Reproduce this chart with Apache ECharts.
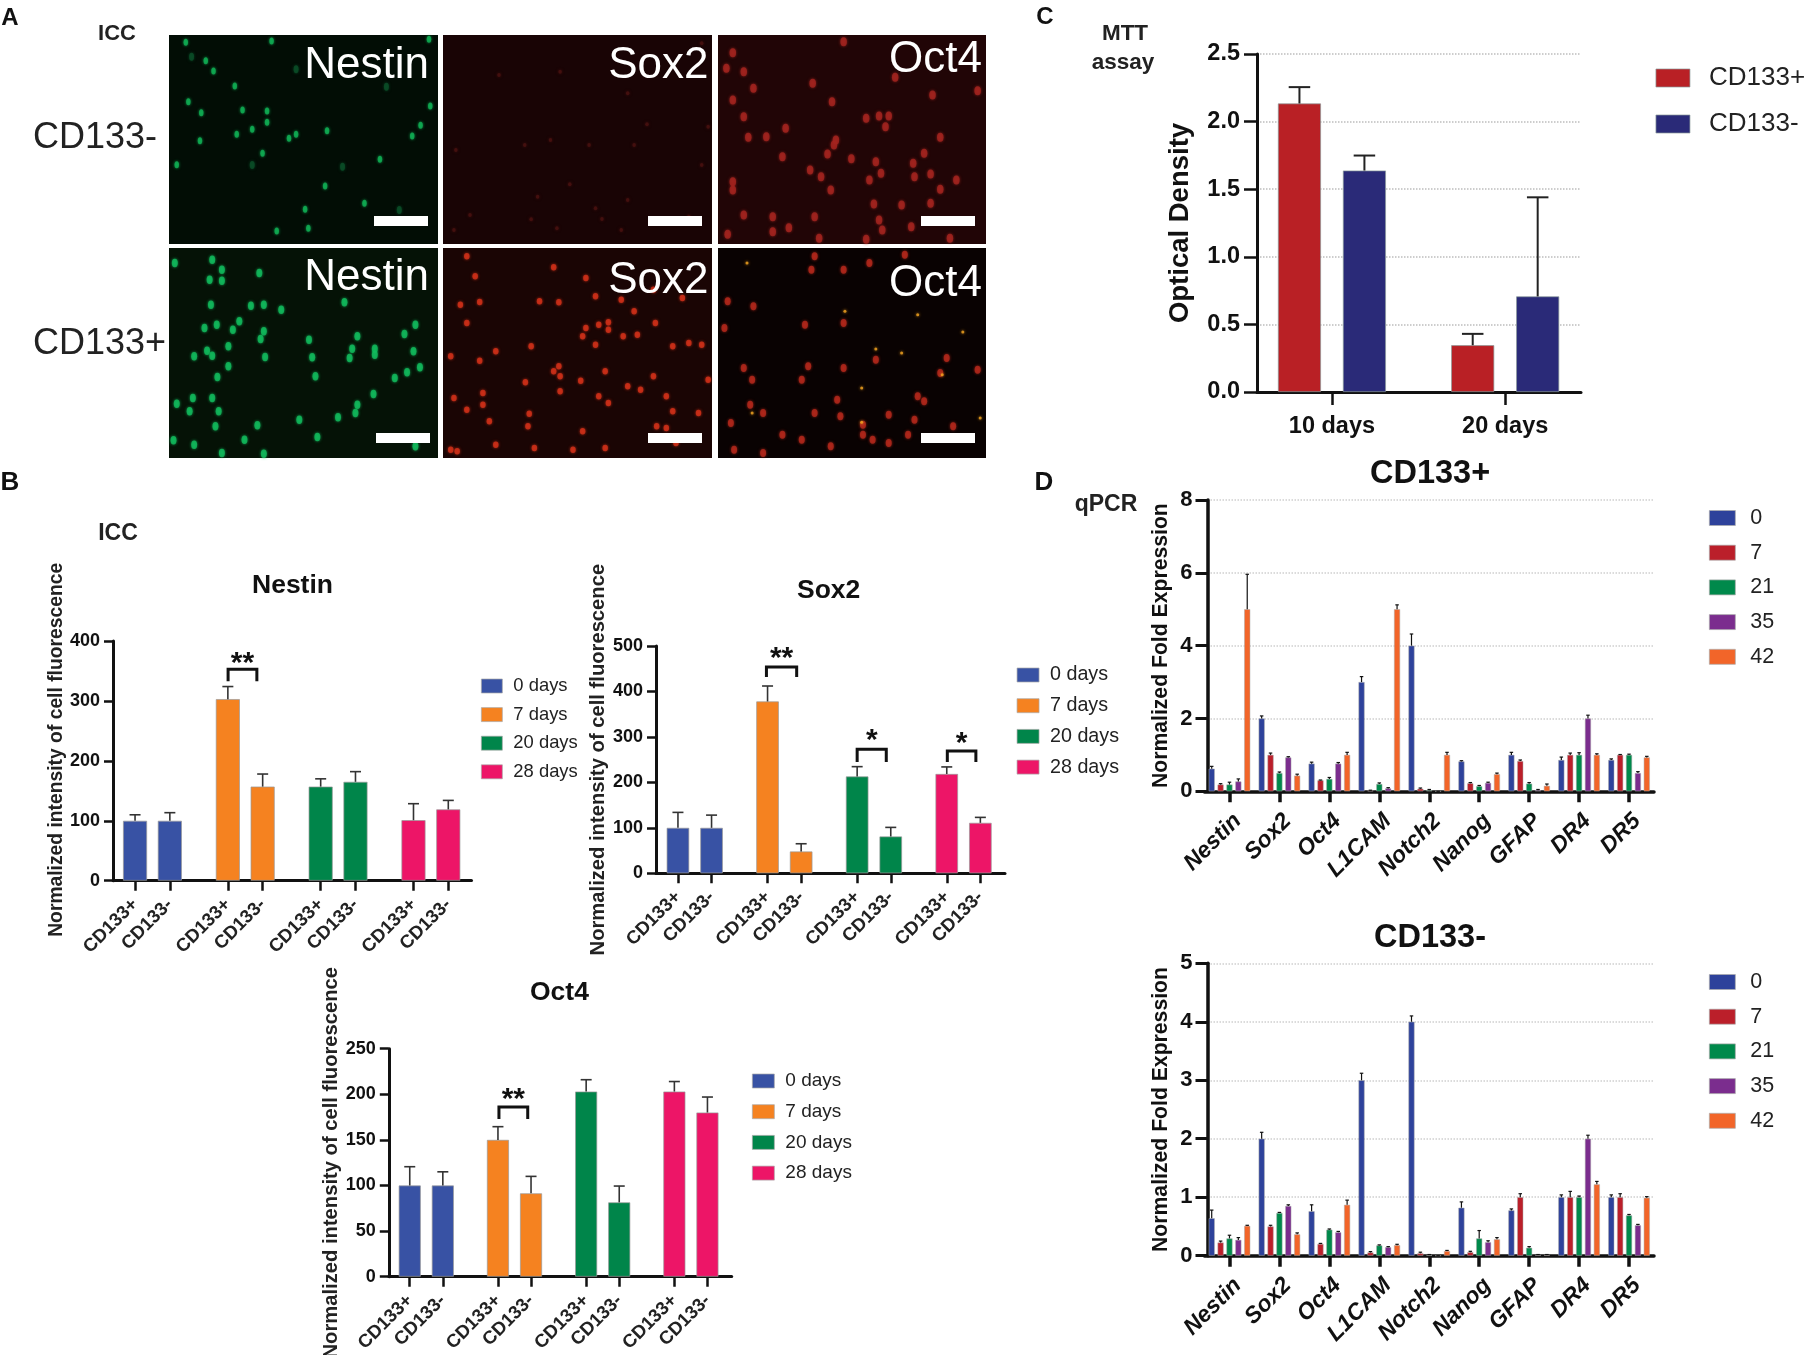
<!DOCTYPE html>
<html>
<head>
<meta charset="utf-8">
<title>CD133 figure</title>
<script src="https://cdn.jsdelivr.net/npm/echarts@6/dist/echarts.min.js"></script>
<style>
html, body { margin: 0; padding: 0; background: #fff; }
#main { width: 1806px; height: 1355px; overflow: hidden; }
</style>
</head>
<body>
<div id="main"></div>
<script>
// panel A: cell positions
const fieldX = [[263, 680], [688, 1106], [1115, 1531]];
const fieldY = [[105, 732], [745, 1375]];
const nestinNegCells = [[289,127],[422,123],[666,118],[320,182],[332,213],[365,258],[293,305],[415,333],[313,338],[392,388],[653,376],[508,392],[449,415],[460,403],[311,422],[368,403],[408,460],[590,478],[275,494],[505,558],[566,610],[474,628],[479,685],[430,693],[668,318],[640,408],[377,330],[415,367]];
const nestinNegDim = [[298,170],[460,208],[600,260],[532,500],[392,495],[620,630]];
const sox2NegCells = [[1090,130],[870,215],[775,225],[1005,373],[1100,380],[815,435],[915,435],[985,435],[885,553],[835,590],[925,625],[975,600],[825,658],[935,657],[730,645],[705,690],[865,685],[965,690],[1090,495],[975,280],[708,450],[855,420],[1070,650]];
const oct4NegCells = [[1138,158],[1310,125],[1155,215],[1128,205],[1170,265],[1138,300],[1292,305],[1448,285],[1518,272],[1390,232],[1262,250],[1155,350],[1220,385],[1190,410],[1345,355],[1365,348],[1380,348],[1375,380],[1162,412],[1295,435],[1460,412],[1298,420],[1285,462],[1322,476],[1215,470],[1435,460],[1258,510],[1368,520],[1445,522],[1420,530],[1418,490],[1485,540],[1138,545],[1275,530],[1360,485],[1350,540],[1460,568],[1290,570],[1400,615],[1357,612],[1445,610],[1155,645],[1365,660],[1370,690],[1415,680],[1225,683],[1200,695],[1130,703],[1272,715],[1475,715],[1345,718],[1265,650],[1200,650],[1138,570]];
const nestinPosCells = [[330,780],[272,790],[345,810],[326,840],[345,843],[403,820],[535,908],[410,915],[390,918],[328,915],[437,930],[337,975],[372,965],[362,990],[318,985],[410,995],[405,1018],[555,1010],[628,1003],[645,975],[355,1040],[322,1053],[302,1070],[330,1068],[412,1072],[485,1073],[547,1047],[582,1047],[582,1065],[543,1075],[642,1055],[355,1100],[338,1132],[490,1130],[652,1103],[632,1118],[613,1135],[580,1183],[275,1212],[300,1195],[330,1195],[340,1235],[295,1235],[552,1240],[525,1253],[465,1260],[400,1277],[335,1280],[270,1322],[302,1335],[345,1360],[493,1312],[645,1340],[410,1362],[380,1320],[555,1215],[480,1020]];
const sox2PosCells = [[725,770],[860,803],[738,830],[910,835],[925,890],[745,907],[715,915],[838,905],[868,908],[965,900],[1015,870],[1060,895],[985,935],[725,970],[1018,970],[945,968],[930,975],[910,985],[905,1010],[945,990],[990,1005],[968,1010],[825,1040],[770,1055],[745,1083],[700,1070],[1070,1030],[1090,1035],[925,1035],[940,1115],[868,1100],[860,1115],[870,1130],[902,1143],[816,1148],[750,1180],[705,1195],[725,1230],[870,1175],[930,1190],[945,1210],[975,1160],[995,1170],[1035,1190],[1015,1130],[822,1242],[760,1265],[905,1295],[820,1280],[1045,1235],[1085,1240],[1035,1285],[940,1345],[770,1335],[700,1350],[710,1355],[830,1345],[890,1350],[1050,1330],[1020,1280],[750,1215],[1100,1140],[1045,1040]];
const oct4PosCells = [[1260,810],[1310,810],[1350,790],[1405,765],[1265,770],[1130,905],[1170,920],[1310,970],[1250,975],[1155,1105],[1125,985],[1360,1080],[1255,1100],[1310,1105],[1470,1075],[1168,1140],[1245,1140],[1165,1215],[1185,1240],[1460,1120],[1265,1240],[1305,1250],[1340,1275],[1380,1245],[1425,1190],[1435,1205],[1140,1350],[1215,1305],[1245,1320],[1290,1340],[1340,1305],[1355,1320],[1410,1305],[1480,1280],[1518,1110],[1300,1200],[1420,1260],[1380,1330],[1185,1360],[1135,1270]];
const oct4PosYellow = [[1160,790],[1312,935],[1425,945],[1360,1048],[1463,1125],[1338,1165],[1338,1268],[1168,1240],[1400,1060],[1495,997],[1522,1255]];

// panel B: four time points, CD133+ / CD133- at each
const dayNames = ['0 days', '7 days', '20 days', '28 days'];
const pairLabels = ['CD133+', 'CD133-', 'CD133+', 'CD133-', 'CD133+', 'CD133-', 'CD133+', 'CD133-'];
const pairPositions = [0, 3, 8, 11, 16, 19, 24, 27];
const nestinValues = [100, 100, 303, 157, 157, 165, 101, 119];
const nestinTops = [110, 113.5, 324, 178, 170, 182, 128.5, 134];
const nestinBrackets = [[8.02, 10.5, 353, 333, 373, '**']];
const sox2Values = [100, 100, 378, 48, 213, 81, 218.5, 111];
const sox2Tops = [134, 128, 412, 65, 234.6, 101, 234, 123];
const sox2Brackets = [[7.9, 10.6, 454, 432, 487, '**'], [16.0, 18.6, 273, 245, 306, '*'], [24.05, 26.6, 269, 245, 300, '*']];
const oct4Values = [100, 100, 150, 91.4, 203, 81.5, 203, 180];
const oct4Tops = [120.6, 115, 164.5, 110, 216, 99.4, 214, 197];
const oct4Brackets = [[8.09, 10.7, 186, 173, 202, '**']];

// panel C: MTT assay
const mttNames = ['CD133+', 'CD133-'];
const mttLabels = ['10 days', '20 days'];
const mttPositions = [[0, 4], [1.5, 5.5]];
const mttTicks = [0.75, 4.75];
const mttValues = [[2.134, 0.346], [1.638, 0.707]];
const mttTops = [[2.255, 0.43], [1.749, 1.44]];

// panel D: qPCR, one row per time point
const genes = ['Nestin', 'Sox2', 'Oct4', 'L1CAM', 'Notch2', 'Nanog', 'GFAP', 'DR4', 'DR5'];
const qpcrDays = ['0', '7', '21', '35', '42'];
const posValues = [
  [0.62, 2.0, 0.76, 3.0, 4.0, 0.82, 1.0, 0.86, 0.86],
  [0.185, 1.0, 0.3, 0.02, 0.07, 0.22, 0.83, 1.0, 1.0],
  [0.185, 0.5, 0.34, 0.2, 0.03, 0.14, 0.21, 1.0, 1.0],
  [0.27, 0.93, 0.76, 0.08, 0, 0.23, 0.03, 2.0, 0.5],
  [5.0, 0.43, 1.0, 5.0, 1.0, 0.47, 0.15, 1.0, 0.93]
];
const posTops = [
  [0.685, 2.07, 0.8, 3.15, 4.32, 0.84, 1.07, 0.94, 0.89],
  [0.21, 1.05, 0.31, 0.03, 0.09, 0.24, 0.86, 1.05, 1.01],
  [0.25, 0.53, 0.38, 0.23, 0.05, 0.16, 0.24, 1.06, 1.02],
  [0.34, 0.95, 0.79, 0.1, 0, 0.25, 0.05, 2.09, 0.54],
  [5.96, 0.47, 1.07, 5.12, 1.07, 0.5, 0.2, 1.03, 0.96]
];
const negValues = [
  [0.64, 2.0, 0.76, 3.0, 4.0, 0.82, 0.775, 1.0, 1.0],
  [0.225, 0.5, 0.2, 0.055, 0.04, 0.06, 1.0, 1.0, 1.0],
  [0.295, 0.73, 0.445, 0.175, 0.01, 0.295, 0.135, 1.0, 0.69],
  [0.27, 0.85, 0.4, 0.145, 0, 0.23, 0.01, 2.0, 0.52],
  [0.51, 0.365, 0.87, 0.18, 0.08, 0.28, 0.01, 1.22, 0.99]
];
const negTops = [
  [0.78, 2.11, 0.87, 3.12, 4.1, 0.92, 0.8, 1.04, 1.04],
  [0.25, 0.52, 0.21, 0.07, 0.06, 0.075, 1.06, 1.1, 1.06],
  [0.35, 0.74, 0.457, 0.185, 0.02, 0.43, 0.155, 1.02, 0.705],
  [0.31, 0.87, 0.415, 0.155, 0, 0.255, 0.02, 2.06, 0.535],
  [0.52, 0.39, 0.95, 0.195, 0.09, 0.31, 0.02, 1.27, 1.01]
];

const FONT = 'Liberation Sans';
const dayColors = ['#3852a4', '#f58220', '#00854a', '#ed1567'];
const mttColors = ['#b92025', '#2a2a78'];
const qpcrColors = ['#2e429b', '#bb1f2a', '#00894b', '#7b2d8e', '#f26529'];

const grids = [];
const xAxes = [];
const yAxes = [];
const series = [];
const titles = [];
const legends = [];

const addGrid = (left, top, right, bottom, extra) => {
  // labels run off the bottom of the page in the figure, so no shrinking to fit
  grids.push({ left, top, width: right - left, height: bottom - top, containLabel: false, outerBoundsMode: 'none', ...extra });
  return grids.length - 1;
};

// micrographs
const fieldPanels = [
  { col: 0, row: 0, bg: '#020d05', layers: [[nestinNegCells, '#10b356', [4.5, 7]], [nestinNegDim, '#0a4f28', [5, 8]]] },
  { col: 1, row: 0, bg: '#190405', layers: [[sox2NegCells, '#4a1210', [3.5, 4]]] },
  { col: 2, row: 0, bg: '#210506', layers: [[oct4NegCells, '#a5241f', [6.5, 9]]] },
  { col: 0, row: 1, bg: '#051206', layers: [[nestinPosCells, '#12bd5e', [6, 8.5]]] },
  { col: 1, row: 1, bg: '#1a0504', layers: [[sox2PosCells, '#d33119', [5.5, 6.5]]] },
  { col: 2, row: 1, bg: '#090202', layers: [[oct4PosCells, '#b5281c', [6, 8]], [oct4PosYellow, '#f2a421', [3, 3]]] }
];
const colPx = [[169, 438], [443, 712], [718, 986]];
const rowPx = [[35, 244], [248, 458]];
fieldPanels.forEach((p) => {
  const g = addGrid(colPx[p.col][0], rowPx[p.row][0], colPx[p.col][1], rowPx[p.row][1], {
    show: true, backgroundColor: p.bg, borderWidth: 0
  });
  xAxes.push({ gridIndex: g, type: 'value', show: false, min: fieldX[p.col][0], max: fieldX[p.col][1] });
  yAxes.push({ gridIndex: g, type: 'value', show: false, inverse: true, min: fieldY[p.row][0], max: fieldY[p.row][1] });
  p.layers.forEach((layer) => {
    series.push({
      type: 'scatter', xAxisIndex: g, yAxisIndex: g, data: layer[0], symbol: 'circle', symbolSize: layer[2],
      itemStyle: { color: layer[1], shadowBlur: 3, shadowColor: layer[1] }, silent: true
    });
  });
});

const errorBars = (g, points, color, stem, cap, shift) => ({
  type: 'custom', xAxisIndex: g, yAxisIndex: g, z: 4, silent: true, clip: false, data: points,
  encode: { x: 0, y: [1, 2] },
  renderItem: (params, api) => {
    const a = api.coord([api.value(0), api.value(1)]);
    const b = api.coord([api.value(0), api.value(2)]);
    const x = a[0] + (shift || 0);
    return {
      type: 'group',
      children: [
        { type: 'line', shape: { x1: x, y1: a[1], x2: x, y2: b[1] }, style: { stroke: color, lineWidth: stem } },
        { type: 'line', shape: { x1: x - cap / 2, y1: b[1], x2: x + cap / 2, y2: b[1] }, style: { stroke: color, lineWidth: stem } }
      ]
    };
  }
});

const bracketSeries = (g, brackets) => ({
  type: 'custom', xAxisIndex: g, yAxisIndex: g, z: 5, silent: true, clip: false, data: brackets.map((b) => b.slice(0, 5)),
  encode: { x: [0, 1], y: [2, 3, 4] },
  renderItem: (params, api) => {
    const l = api.coord([api.value(0), api.value(3)]);
    const r = api.coord([api.value(1), api.value(2)]);
    const star = api.coord([(api.value(0) + api.value(1)) / 2, api.value(4)]);
    return {
      type: 'group',
      children: [
        { type: 'polyline', shape: { points: [[l[0], l[1]], [l[0], r[1]], [r[0], r[1]], [r[0], l[1]]] }, style: { stroke: '#111', lineWidth: 3, fill: null } },
        { type: 'text', x: star[0], y: star[1] + 7, style: { text: brackets[params.dataIndex][5], font: 'bold 30px ' + FONT, fill: '#111', textAlign: 'center', textVerticalAlign: 'middle' } }
      ]
    };
  }
});

// panel B
const intensityPanels = [
  {
    title: 'Nestin', titleLeft: 252, titleTop: 572, values: nestinValues, tops: nestinTops, brackets: nestinBrackets,
    box: [113, 641, 471.5, 880.7], xRange: [-1.9, 29], yMax: 400, step: 100, barWidth: 24, nameGap: 46, namePad: [0, 0, 0, 22], nameSize: 19.3,
    legend: { left: 481, top: 676, itemWidth: 21, itemHeight: 14, size: 18.4, pitch: 28.6 }
  },
  {
    title: 'Sox2', titleLeft: 797, titleTop: 577, values: sox2Values, tops: sox2Tops, brackets: sox2Brackets,
    box: [656, 646, 1005, 873.3], xRange: [-1.96, 29.2], yMax: 500, step: 100, barWidth: 22.5, nameGap: 48, namePad: [0, 0, 0, 0], nameSize: 20.2,
    legend: { left: 1016.7, top: 665, itemWidth: 22, itemHeight: 14, size: 19.7, pitch: 30.7 }
  },
  {
    title: 'Oct4', titleLeft: 530, titleTop: 979, values: oct4Values, tops: oct4Tops, brackets: oct4Brackets,
    box: [388.8, 1048.7, 731.7, 1276.7], xRange: [-1.9, 29.2], yMax: 250, step: 50, barWidth: 22, nameGap: 46, namePad: [0, 0, 0, 0], nameSize: 20.2,
    legend: { left: 752, top: 1071, itemWidth: 22, itemHeight: 14, size: 19, pitch: 30.7 }
  }
];
intensityPanels.forEach((p) => {
  const g = addGrid(p.box[0], p.box[1], p.box[2], p.box[3]);
  xAxes.push({
    gridIndex: g, type: 'value', min: p.xRange[0], max: p.xRange[1], splitLine: { show: false },
    axisLine: { show: true, lineStyle: { color: '#111', width: 3 } },
    axisTick: { show: true, customValues: pairPositions, length: 10, lineStyle: { color: '#111', width: 2.5 } },
    axisLabel: {
      show: true, customValues: pairPositions, rotate: 45, margin: 21, color: '#222', fontFamily: FONT, fontSize: 18.5, fontWeight: 'bold',
      formatter: (v) => pairLabels[pairPositions.indexOf(v)]
    }
  });
  yAxes.push({
    gridIndex: g, type: 'value', min: 0, max: p.yMax, interval: p.step, splitLine: { show: false },
    name: 'Normalized intensity of cell fluorescence', nameLocation: 'middle', nameGap: p.nameGap,
    nameTextStyle: { color: '#222', fontFamily: FONT, fontSize: p.nameSize, fontWeight: 'bold', padding: p.namePad },
    axisLine: { show: true, onZero: false, lineStyle: { color: '#111', width: 3 } },
    axisTick: { show: true, length: 9, lineStyle: { color: '#111', width: 2.5 } },
    axisLabel: { margin: 13, color: '#111', fontFamily: FONT, fontSize: 18, fontWeight: 'bold' }
  });
  dayNames.forEach((name, i) => {
    const idx = [i * 2, i * 2 + 1];
    series.push({
      type: 'bar', name, xAxisIndex: g, yAxisIndex: g, barWidth: p.barWidth, barGap: '-100%',
      data: idx.map((k) => [pairPositions[k], p.values[k]]),
      itemStyle: { color: dayColors[i], borderColor: '#999', borderWidth: 0.7 }, silent: true
    });
  });
  series.push(errorBars(g, p.values.map((v, k) => [pairPositions[k], v, p.tops[k]]), '#333', 1.6, 11));
  series.push(bracketSeries(g, p.brackets));
  titles.push({ text: p.title, left: p.titleLeft, top: p.titleTop, padding: 0, textStyle: { color: '#111', fontFamily: FONT, fontSize: 26.5, fontWeight: 'bold' } });
  legends.push({
    data: dayNames, orient: 'vertical', left: p.legend.left, top: p.legend.top, padding: 0, selectedMode: false, icon: 'rect',
    itemWidth: p.legend.itemWidth, itemHeight: p.legend.itemHeight, itemGap: p.legend.pitch - 20,
    itemStyle: { borderColor: '#aaa', borderWidth: 0.7 },
    textStyle: { color: '#222', fontFamily: FONT, fontSize: p.legend.size, lineHeight: 20, padding: [0, 0, 0, 6] }
  });
});

// panel C
const mttGrid = addGrid(1257, 54, 1581, 392);
xAxes.push({
  gridIndex: mttGrid, type: 'value', min: -0.98, max: 6.5, splitLine: { show: false },
  axisLine: { show: true, lineStyle: { color: '#111', width: 3 } },
  axisTick: { show: true, customValues: mttTicks, length: 13, lineStyle: { color: '#111', width: 2.5 } },
  axisLabel: {
    show: true, customValues: mttTicks, margin: 23, color: '#111', fontFamily: FONT, fontSize: 23.5, fontWeight: 'bold',
    formatter: (v) => mttLabels[mttTicks.indexOf(v)]
  }
});
yAxes.push({
  gridIndex: mttGrid, type: 'value', min: 0, max: 2.5, interval: 0.5,
  splitLine: { show: true, lineStyle: { color: '#bdbdbd', type: 'dotted', width: 1.5 } },
  name: 'Optical Density', nameLocation: 'middle', nameGap: 63,
  nameTextStyle: { color: '#111', fontFamily: FONT, fontSize: 27.5, fontWeight: 'bold' },
  axisLine: { show: true, onZero: false, lineStyle: { color: '#111', width: 3 } },
  axisTick: { show: true, length: 13, lineStyle: { color: '#111', width: 2.5 } },
  axisLabel: { margin: 17, color: '#111', fontFamily: FONT, fontSize: 23.5, fontWeight: 'bold', formatter: (v) => v.toFixed(1) }
});
mttNames.forEach((name, i) => {
  series.push({
    type: 'bar', name, xAxisIndex: mttGrid, yAxisIndex: mttGrid, barWidth: 43, barGap: '-100%',
    data: mttValues[i].map((v, k) => [mttPositions[i][k], v]),
    itemStyle: { color: mttColors[i], borderColor: '#8a9a9a', borderWidth: 0.7 }, silent: true
  });
  series.push(errorBars(mttGrid, mttValues[i].map((v, k) => [mttPositions[i][k], v, mttTops[i][k]]), '#222', 2, 21.5));
});
legends.push({
  data: mttNames, orient: 'vertical', left: 1655.6, top: 65, padding: 0, selectedMode: false, icon: 'rect',
  itemWidth: 34, itemHeight: 18, itemGap: 20,
  itemStyle: { borderColor: '#8a9a9a', borderWidth: 0.7 },
  textStyle: { color: '#222', fontFamily: FONT, fontSize: 26, lineHeight: 26, padding: [0, 0, 0, 14] }
});

// panel D
const qpcrPanels = [
  { title: 'CD133+', titleLeft: 1370, titleTop: 458, values: posValues, tops: posTops, top: 500, bottom: 791.3, yMax: 8, step: 2, legendTop: 507 },
  { title: 'CD133-', titleLeft: 1374, titleTop: 922, values: negValues, tops: negTops, top: 963.3, bottom: 1255.7, yMax: 5, step: 1, legendTop: 971 }
];
qpcrPanels.forEach((p) => {
  const g = addGrid(1204.5, p.top, 1654, p.bottom);
  xAxes.push({
    gridIndex: g, type: 'category', data: genes,
    axisLine: { show: true, lineStyle: { color: '#111', width: 3.5 } },
    axisTick: { show: true, alignWithLabel: true, length: 11, lineStyle: { color: '#111', width: 3.5 } },
    axisLabel: { rotate: 45, margin: 18, verticalAlign: 'top', interval: 0, color: '#111', fontFamily: FONT, fontSize: 23, fontWeight: 'bold', fontStyle: 'italic' }
  });
  yAxes.push({
    gridIndex: g, type: 'value', min: 0, max: p.yMax, interval: p.step, offset: -3,
    splitLine: { show: true, lineStyle: { color: '#cfcfcf', type: 'dotted', width: 1.5 } },
    name: 'Normalized Fold Expression', nameLocation: 'middle', nameGap: 36,
    nameTextStyle: { color: '#111', fontFamily: FONT, fontSize: 21.2, fontWeight: 'bold' },
    axisLine: { show: true, lineStyle: { color: '#111', width: 3.5 } },
    axisTick: { show: true, length: 12, lineStyle: { color: '#111', width: 3 } },
    axisLabel: { margin: 15, color: '#111', fontFamily: FONT, fontSize: 22, fontWeight: 'bold' }
  });
  qpcrDays.forEach((name, i) => {
    series.push({
      type: 'bar', name, xAxisIndex: g, yAxisIndex: g, barWidth: 6, barGap: '48%', data: p.values[i],
      itemStyle: { color: qpcrColors[i], borderColor: '#aaa', borderWidth: 0.5 }, silent: true
    });
  });
  qpcrDays.forEach((name, i) => {
    series.push(errorBars(g, p.values[i].map((v, k) => [k, v, p.tops[i][k]]), '#111', 1.2, 3.5, (i - 2) * 8.88));
  });
  titles.push({ text: p.title, left: p.titleLeft, top: p.titleTop, padding: 0, textStyle: { color: '#111', fontFamily: FONT, fontSize: 32.5, fontWeight: 'bold' } });
  legends.push({
    data: qpcrDays, orient: 'vertical', left: 1709, top: p.legendTop, padding: 0, selectedMode: false, icon: 'rect',
    itemWidth: 26, itemHeight: 15, itemGap: 12.7,
    itemStyle: { borderColor: '#aaa', borderWidth: 0.7 },
    textStyle: { color: '#222', fontFamily: FONT, fontSize: 21.5, lineHeight: 22, padding: [0, 0, 0, 10] }
  });
});

// loose labels and scale bars
const texts = [
  ['A', 10, 18, 'bold 24px', '#111', 'center'],
  ['B', 10, 483, 'bold 26px', '#111', 'center'],
  ['C', 1045, 17, 'bold 24px', '#111', 'center'],
  ['D', 1044, 483, 'bold 26px', '#111', 'center'],
  ['ICC', 117, 34, 'bold 22px', '#222', 'center'],
  ['ICC', 118, 534, 'bold 23px', '#222', 'center'],
  ['MTT', 1125, 34, 'bold 22.5px', '#222', 'center'],
  ['assay', 1123, 63, 'bold 22.5px', '#222', 'center'],
  ['qPCR', 1106, 505, 'bold 23px', '#222', 'center'],
  ['CD133-', 33, 138, '36px', '#222', 'left'],
  ['CD133+', 33, 344, '36px', '#222', 'left'],
  ['Nestin', 429, 66, '44px', '#fff', 'right'],
  ['Sox2', 708.5, 66, '44px', '#fff', 'right'],
  ['Oct4', 982, 60, '44px', '#fff', 'right'],
  ['Nestin', 429, 278, '44px', '#fff', 'right'],
  ['Sox2', 708.5, 281, '44px', '#fff', 'right'],
  ['Oct4', 982, 284, '44px', '#fff', 'right']
];
const scaleBars = [[374, 216], [648, 216], [921, 216], [376, 433], [648, 433], [921, 433]];
const graphic = [
  ...texts.map((t) => ({
    type: 'text', z: 100, x: t[1], y: t[2],
    style: { text: t[0], font: t[3] + ' ' + FONT, fill: t[4], textAlign: t[5], textVerticalAlign: 'middle' }
  })),
  ...scaleBars.map((b) => ({
    type: 'rect', z: 100, shape: { x: b[0], y: b[1], width: 54, height: 10 }, style: { fill: '#fff' }
  }))
];

const chart = echarts.init(document.getElementById('main'), null, { renderer: 'canvas' });
chart.setOption({
  animation: false,
  backgroundColor: '#fff',
  textStyle: { fontFamily: FONT },
  title: titles,
  legend: legends,
  grid: grids,
  xAxis: xAxes,
  yAxis: yAxes,
  series,
  graphic
});
</script>
</body>
</html>
